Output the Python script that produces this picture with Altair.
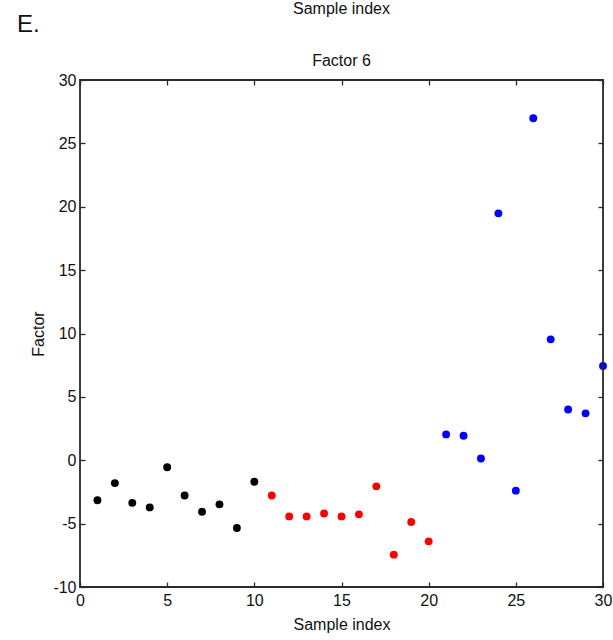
import altair as alt
import pandas as pd

sample_index = list(range(1, 31))
factor_values = [-3.16, -1.80, -3.36, -3.72, -0.55, -2.78, -4.06, -3.48, -5.35, -1.70,
                 -2.78, -4.43, -4.43, -4.20, -4.43, -4.27, -2.06, -7.45, -4.87, -6.40,
                 2.04, 1.93, 0.14, 19.48, -2.40, 26.98, 9.54, 4.00, 3.70, 7.44]
groups = ["A"] * 10 + ["B"] * 10 + ["C"] * 10
group_colors = ["#000000", "#ff0000", "#0000ff"]
x_ticks = [0, 5, 10, 15, 20, 25, 30]
y_ticks = [-10, -5, 0, 5, 10, 15, 20, 25, 30]
x_domain = [0, 30]
y_domain = [-10, 30]

df = pd.DataFrame({"sample": sample_index, "factor": factor_values, "group": groups})

FONT = "Liberation Sans"
AX = "#2a2a2a"
LABEL_EXPR = "datum.value < 0 ? '-' + abs(datum.value) : '' + datum.value"

xs = alt.Scale(domain=x_domain, nice=False, zero=False)
ys = alt.Scale(domain=y_domain, nice=False, zero=False)

def axis(orient, values, labels, title=None, pad=4, tpad=0):
    kw = dict(orient=orient, values=values, labels=labels, domain=False, grid=False,
              offset=-5, tickSize=5, tickColor=AX, tickWidth=1.3,
              labelFont=FONT, labelFontSize=16, labelColor="#111", labelPadding=pad,
              labelFlush=False, labelOverlap=False, labelExpr=LABEL_EXPR)
    if title:
        kw.update(title=title, titleFont=FONT, titleFontSize=16, titleFontWeight="normal",
                  titleColor="#111", titlePadding=tpad)
    else:
        kw.update(title=None)
    return alt.Axis(**kw)

pts = alt.Chart(df).mark_circle(size=62, opacity=1).encode(
    x=alt.X("sample:Q", scale=xs, axis=axis("bottom", x_ticks, True, "Sample index", 5, 8)),
    y=alt.Y("factor:Q", scale=ys, axis=axis("left", y_ticks, True, "Factor", 4, 6)),
    color=alt.Color("group:N", scale=alt.Scale(domain=["A", "B", "C"], range=group_colors), legend=None),
)

frame = alt.Chart(df).mark_point(opacity=0).encode(
    x=alt.X("sample:Q", scale=xs, axis=axis("top", x_ticks, False)),
    y=alt.Y("factor:Q", scale=ys, axis=axis("right", y_ticks, False)),
)

box_df = pd.DataFrame({"x0": [x_domain[0]], "x1": [x_domain[1]], "y0": [y_domain[0]], "y1": [y_domain[1]]})
box = alt.Chart(box_df).mark_rect(fill=None, stroke=AX, strokeWidth=1.8).encode(
    x=alt.X("x0:Q", scale=xs, axis=None),
    x2="x1:Q",
    y=alt.Y("y0:Q", scale=ys, axis=None),
    y2="y1:Q",
)

ann = pd.DataFrame({"t": ["E.", "Sample index", "Factor 6"]})
t_e = alt.Chart(ann).transform_filter(alt.datum.t == "E.").mark_text(
    font=FONT, fontSize=24, align="left", baseline="alphabetic", color="#111"
).encode(text="t:N", x=alt.value(-63), y=alt.value(-48))
t_top = alt.Chart(ann).transform_filter(alt.datum.t == "Sample index").mark_text(
    font=FONT, fontSize=16, align="center", baseline="alphabetic", color="#111"
).encode(text="t:N", x=alt.value(261.5), y=alt.value(-66.5))
t_title = alt.Chart(ann).transform_filter(alt.datum.t == "Factor 6").mark_text(
    font=FONT, fontSize=16, align="center", baseline="alphabetic", color="#111"
).encode(text="t:N", x=alt.value(261.5), y=alt.value(-14))

chart = alt.layer(pts, frame, box, t_e, t_top, t_title).resolve_axis(
    x="independent", y="independent"
).properties(
    width=523, height=507,
    autosize=alt.AutoSizeParams(type="none"),
    padding={"left": 80, "top": 80, "right": 10, "bottom": 53},
).configure_view(stroke=None).configure(background="white")

chart.save("out.html", embed_options={"renderer": "svg", "actions": False})
